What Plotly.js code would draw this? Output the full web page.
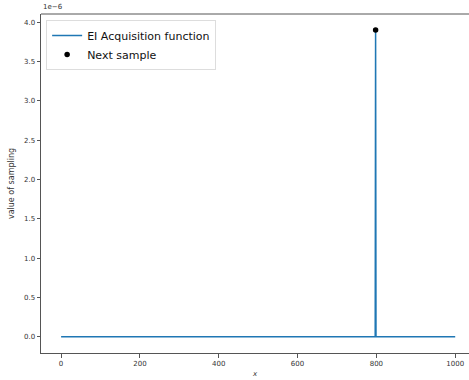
<!DOCTYPE html>
<html><head><meta charset="utf-8">
<script src="https://cdn.plot.ly/plotly-3.0.1.min.js"></script>
<style>html,body{margin:0;padding:0;background:#fff}#chart{width:469px;height:380px}</style>
</head><body><div id="chart"></div>
<script>
const xValues = [0, 797, 798, 799, 1000];
const eiValues = [0, 0, 3.9e-6, 0, 0];
const nextX = [798];
const nextY = [3.9e-6];
const xTicks = [0, 200, 400, 600, 800, 1000];
const yTicks = [0, 0.5e-6, 1e-6, 1.5e-6, 2e-6, 2.5e-6, 3e-6, 3.5e-6, 4e-6];
const yTickText = ["0.0","0.5","1.0","1.5","2.0","2.5","3.0","3.5","4.0"];

const data = [
  {x: xValues, y: eiValues, type: 'scatter', mode: 'lines', name: 'EI Acquisition function',
   line: {color: '#1f77b4', width: 1.5}},
  {x: nextX, y: nextY, type: 'scatter', mode: 'markers', name: 'Next sample',
   marker: {color: '#000', size: 5.5}}
];
const layout = {
  width: 469, height: 380,
  margin: {l: 41, r: 0, t: 14, b: 27},
  paper_bgcolor: '#fff', plot_bgcolor: '#fff',
  font: {family: 'DejaVu Sans', color: '#333', size: 7},
  showlegend: true,
  legend: {x: 0.012, y: 0.982, xanchor: 'left', yanchor: 'top',
    bordercolor: '#ddd', borderwidth: 1, bgcolor: '#fff',
    itemwidth: 30, font: {size: 11, color: '#111'}, tracegroupgap: 0},
  xaxis: {range: [-51, 1035], tickvals: xTicks, ticktext: xTicks.map(String),
    showgrid: false, zeroline: false, showline: true, linecolor: '#555', linewidth: 1,
    ticks: 'outside', ticklen: 3.5, tickcolor: '#555',
    title: {text: '<i>x</i>', font: {size: 7}, standoff: 4}},
  yaxis: {range: [-0.207e-6, 4.105e-6], tickvals: yTicks, ticktext: yTickText,
    showgrid: false, zeroline: false, showline: true, linecolor: '#555', linewidth: 1,
    ticks: 'outside', ticklen: 3.5, tickcolor: '#555',
    title: {text: 'value of sampling', font: {size: 8}, standoff: 8}},
  shapes: [{type: 'line', xref: 'paper', yref: 'paper', x0: 0, x1: 1, y0: 1, y1: 1,
    line: {color: '#555', width: 1}}],
  annotations: [{text: '1e\u22126', xref: 'paper', yref: 'paper', x: 0, y: 1,
    xanchor: 'left', yanchor: 'bottom', showarrow: false, font: {size: 7}, yshift: 1}]
};
Plotly.newPlot('chart', data, layout, {displayModeBar: false, staticPlot: true});
</script></body></html>
